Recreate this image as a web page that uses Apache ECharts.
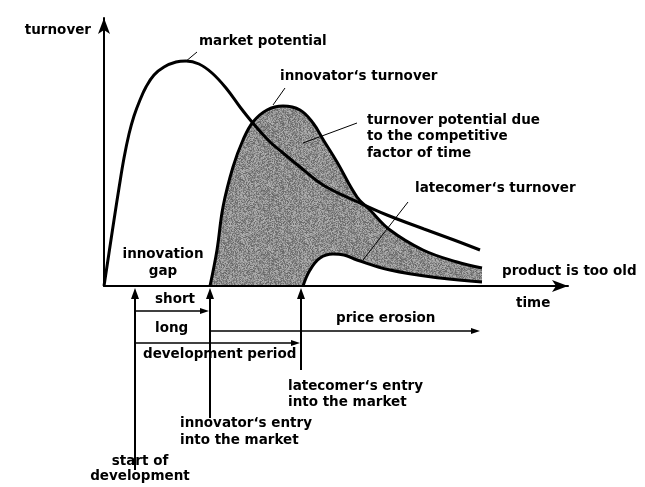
<!DOCTYPE html>
<html><head><meta charset="utf-8">
<script src="https://cdn.jsdelivr.net/npm/echarts@6/dist/echarts.min.js"></script>
<style>html,body{margin:0;background:#fff}#c{width:645px;height:487px}</style>
</head><body><div id="c"></div>
<script>
// time (x) / turnover (y) values
const marketPotential = [[0,0],[5,33],[10,66],[15,98],[20,128],[25,152],[30,170],[36,186],[42,199],[50,211],[60,219],[72,224],[82,225],[95,222],[108,213],[122,198],[136,179],[148,164],[165,145],[179,133],[196,119],[219,101],[256,83],[283,71],[320,57],[350,46],[376,36]];
const innovatorTurnover = [[106,0],[113,36],[119,79],[129,119],[139,146],[149,164],[163,176],[179,180],[196,176],[209,163],[220,145],[233,124],[253,89],[266,76],[286,56],[319,36],[353,24],[378,18]];
const latecomerTurnover = [[199,0],[206,16],[216,28],[229,32],[240,31],[253,26],[286,16],[336,8],[378,4]];
// start of development, innovator's entry, latecomer's entry
const eventTimes = [31,106,197];
const priceErosionEnd = 376;

const FONT = 'bold 13.5px "DejaVu Sans"';
const chart = echarts.init(document.getElementById('c'));

// deterministic grainy texture for the shaded area
const tex = document.createElement('canvas');
tex.width = 64; tex.height = 64;
const tctx = tex.getContext('2d');
const img = tctx.createImageData(64,64);
for (let i=0;i<64*64;i++){
  let h = Math.sin(i*12.9898+78.233)*43758.5453; h = h - Math.floor(h);
  const v = Math.round(100 + h*80);
  img.data[i*4]=v; img.data[i*4+1]=v; img.data[i*4+2]=v; img.data[i*4+3]=255;
}
tctx.putImageData(img,0,0);

const axisCommon = {
  type:'value', min:0,
  axisLine:{show:true, symbol:['none','arrow'], symbolSize:[9,16], lineStyle:{color:'#000', width:2}},
  axisTick:{show:false}, axisLabel:{show:false}, splitLine:{show:false}, z:10
};
chart.setOption({
  animation:false,
  grid:{left:104, top:18, width:464, height:268},
  xAxis:Object.assign({}, axisCommon, {max:464}),
  yAxis:Object.assign({}, axisCommon, {max:268}),
  series:[
    {type:'line', name:'innovator', data:innovatorTurnover, smooth:0.4, symbol:'none', z:2,
     lineStyle:{color:'#000', width:3}, areaStyle:{color:{image:tex, repeat:'repeat'}, opacity:1}},
    {type:'line', name:'latecomer', data:latecomerTurnover, smooth:0.4, symbol:'none', z:3,
     lineStyle:{color:'#000', width:3}, areaStyle:{color:'#fff', opacity:1}},
    {type:'line', name:'market', data:marketPotential, smooth:0.4, symbol:'none', z:4,
     lineStyle:{color:'#000', width:3}}
  ]
});

const px = p => chart.convertToPixel({gridIndex:0}, p);
const g = [];
function txt(s, x, y, align){ g.push({type:'text', style:{text:s, x:x, y:y, font:FONT, fill:'#000', textAlign:align||'left', textVerticalAlign:'middle'}, z:20}); }
function seg(x1,y1,x2,y2,w){ g.push({type:'line', shape:{x1,y1,x2,y2}, style:{stroke:'#000', lineWidth:w||1}, z:20}); }
function vArrow(x, yTop, yBot){
  seg(x, yTop+8, x, yBot, 2);
  g.push({type:'polygon', shape:{points:[[x,yTop],[x-4,yTop+11],[x+4,yTop+11]]}, style:{fill:'#000'}, z:20});
}
function hArrow(x1, x2, y){
  seg(x1, y, x2-6, y, 1.5);
  g.push({type:'polygon', shape:{points:[[x2,y],[x2-9,y-3],[x2-9,y+3]]}, style:{fill:'#000'}, z:20});
}

const base = px([0,0])[1];
const xs = eventTimes.map(t => px([t,0])[0]);
const xEnd = px([priceErosionEnd,0])[0];
vArrow(xs[0], base+2, 470);
vArrow(xs[1], base+2, 418);
vArrow(xs[2], base+2, 370);
hArrow(xs[0]+1, xs[1]-1, 311);
hArrow(xs[1]+1, xEnd, 331);
hArrow(xs[0]+1, xs[2]-1, 343);

// leader lines
seg(197,52,185,62);
seg(285,88,273,105);
seg(357,123,303,143);
seg(408,202,363,260);

txt('turnover', 91, 30, 'right');
txt('market potential', 199, 41);
txt('innovator‘s turnover', 280, 76);
txt('turnover potential due', 367, 120);
txt('to the competitive', 367, 136);
txt('factor of time', 367, 153);
txt('latecomer‘s turnover', 415, 188);
txt('innovation', 163, 254, 'center');
txt('gap', 163, 271, 'center');
txt('product is too old', 502, 271);
txt('time', 516, 303);
txt('short', 155, 299);
txt('long', 155, 328);
txt('price erosion', 336, 318);
txt('development period', 143, 354);
txt('latecomer‘s entry', 288, 386);
txt('into the market', 288, 402);
txt('innovator‘s entry', 180, 423);
txt('into the market', 180, 440);
txt('start of', 140, 461, 'center');
txt('development', 140, 476, 'center');

chart.setOption({graphic:{elements:g}});
</script></body></html>
